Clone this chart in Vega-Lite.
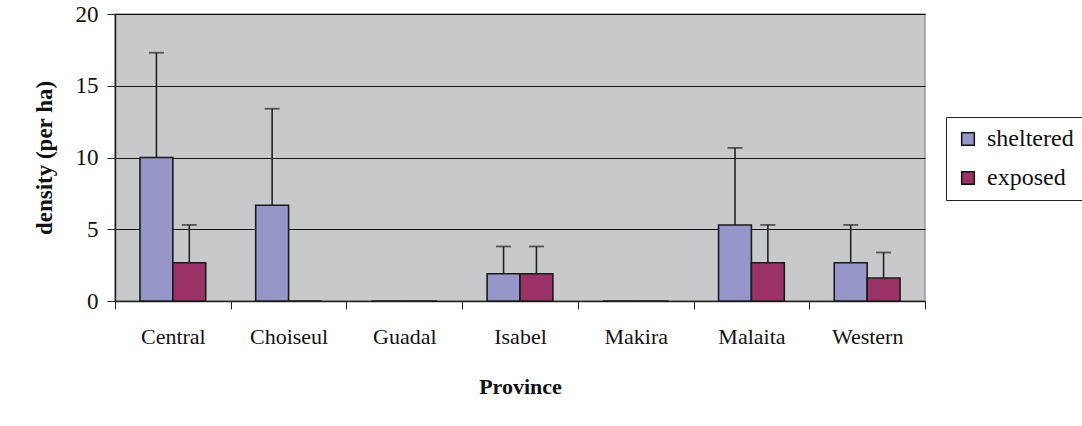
{
  "$schema": "https://vega.github.io/schema/vega-lite/v6.json",
  "autosize": "none",
  "width": 810,
  "height": 287,
  "padding": {"left": 115, "top": 14, "right": 157, "bottom": 125},
  "background": "white",
  "config": {
    "font": "Liberation Serif",
    "view": {"fill": "#C8C9CB", "stroke": "#9A9A9A", "strokeWidth": 1.5}
  },
  "data": {
    "values": [
      {"Province": "Central", "group": "sheltered", "value": 10, "upper": 17.3},
      {"Province": "Central", "group": "exposed", "value": 2.67, "upper": 5.3},
      {"Province": "Choiseul", "group": "sheltered", "value": 6.67, "upper": 13.4},
      {"Province": "Choiseul", "group": "exposed", "value": 0, "upper": 0},
      {"Province": "Guadal", "group": "sheltered", "value": 0, "upper": 0},
      {"Province": "Guadal", "group": "exposed", "value": 0, "upper": 0},
      {"Province": "Isabel", "group": "sheltered", "value": 1.9, "upper": 3.8},
      {"Province": "Isabel", "group": "exposed", "value": 1.9, "upper": 3.8},
      {"Province": "Makira", "group": "sheltered", "value": 0, "upper": 0},
      {"Province": "Makira", "group": "exposed", "value": 0, "upper": 0},
      {"Province": "Malaita", "group": "sheltered", "value": 5.3, "upper": 10.67},
      {"Province": "Malaita", "group": "exposed", "value": 2.67, "upper": 5.3},
      {"Province": "Western", "group": "sheltered", "value": 2.67, "upper": 5.3},
      {"Province": "Western", "group": "exposed", "value": 1.6, "upper": 3.38}
    ]
  },
  "encoding": {
    "x": {
      "field": "Province",
      "type": "nominal",
      "sort": null,
      "scale": {"paddingInner": 0, "paddingOuter": 0},
      "axis": {
        "title": "Province",
        "labelAngle": 0,
        "labelFont": "Liberation Serif",
        "labelFontSize": 22,
        "labelColor": "#111",
        "labelPadding": 17,
        "tickBand": "extent",
        "tickSize": 8,
        "tickColor": "#222",
        "domainColor": "#222",
        "domainWidth": 1.5,
        "titleFont": "Liberation Serif",
        "titleFontSize": 22,
        "titleFontWeight": "bold",
        "titleColor": "#111",
        "titlePadding": 29
      }
    },
    "xOffset": {
      "field": "group",
      "scale": {"domain": ["sheltered", "exposed"], "paddingInner": 0, "paddingOuter": 0.76}
    }
  },
  "layer": [
    {
      "mark": {"type": "bar", "stroke": "#1a1a1a", "strokeWidth": 1.6},
      "encoding": {
        "y": {
          "field": "value",
          "type": "quantitative",
          "scale": {"domain": [0, 20], "nice": false},
          "axis": {
            "title": "density (per ha)",
            "values": [0, 5, 10, 15, 20],
            "grid": true,
            "gridColor": "#111",
            "gridWidth": 1,
            "gridOpacity": 1,
            "labelFont": "Liberation Serif",
            "labelFontSize": 23,
            "labelColor": "#111",
            "labelPadding": 9,
            "tickSize": 8,
            "tickColor": "#222",
            "domainColor": "#222",
            "domainWidth": 1.5,
            "titleFont": "Liberation Serif",
            "titleFontSize": 23,
            "titleFontWeight": "bold",
            "titleColor": "#111",
            "titlePadding": 19
          }
        },
        "color": {
          "field": "group",
          "type": "nominal",
          "scale": {"domain": ["sheltered", "exposed"], "range": ["#9696C9", "#993366"]},
          "legend": {
            "title": null,
            "orient": "none",
            "legendX": 831,
            "legendY": 103,
            "direction": "vertical",
            "symbolType": "square",
            "symbolSize": 160,
            "symbolStrokeColor": "#111",
            "symbolStrokeWidth": 1.5,
            "labelFont": "Liberation Serif",
            "labelFontSize": 24,
            "labelColor": "#111",
            "labelOffset": 7,
            "rowPadding": 15,
            "padding": 10,
            "strokeColor": "#222",
            "fillColor": "white"
          }
        }
      }
    },
    {
      "transform": [{"filter": "datum.upper > datum.value"}],
      "mark": {"type": "rule", "color": "#222", "strokeWidth": 1.6},
      "encoding": {
        "y": {"field": "value", "type": "quantitative"},
        "y2": {"field": "upper"}
      }
    },
    {
      "transform": [{"filter": "datum.upper > datum.value"}],
      "mark": {"type": "tick", "color": "#222", "thickness": 1.8, "size": 15, "orient": "horizontal"},
      "encoding": {
        "y": {"field": "upper", "type": "quantitative"}
      }
    }
  ]
}
